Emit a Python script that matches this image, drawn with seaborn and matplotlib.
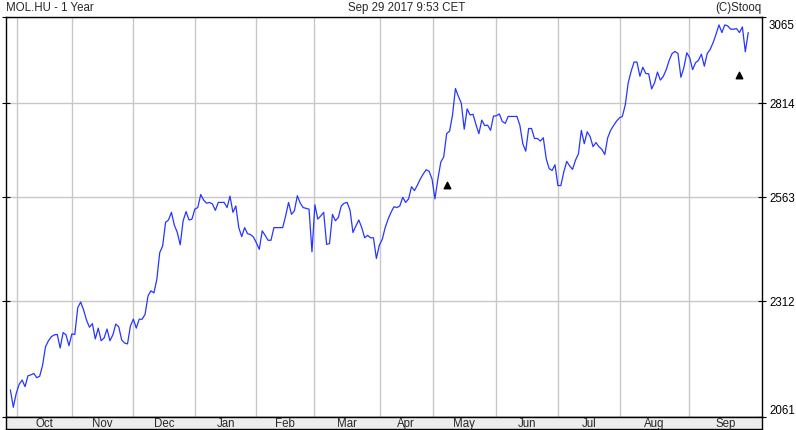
import numpy as np
import matplotlib
matplotlib.use("Agg")
import matplotlib.pyplot as plt
import matplotlib.transforms as mtransforms
from matplotlib.ticker import NullFormatter, NullLocator
import seaborn as sns

# MOL.HU daily close, one value per trading day
close = [
    2117, 2081, 2110, 2129, 2138, 2124, 2147, 2149, 2152, 2143,
    2146, 2170, 2210, 2223, 2232, 2236, 2237, 2207, 2241, 2236,
    2212, 2238, 2237, 2297, 2310, 2292, 2269, 2253, 2261, 2227,
    2251, 2223, 2229, 2249, 2223, 2236, 2260, 2254, 2225, 2218,
    2216, 2256, 2271, 2251, 2271, 2271, 2282, 2324, 2336, 2331,
    2362, 2426, 2442, 2500, 2506, 2525, 2493, 2475, 2445, 2504,
    2527, 2506, 2508, 2533, 2537, 2570, 2556, 2548, 2550, 2546,
    2530, 2550, 2550, 2550, 2537, 2566, 2525, 2541, 2487, 2465,
    2487, 2472, 2470, 2464, 2450, 2434, 2479, 2468, 2456, 2456,
    2487, 2487, 2487, 2487, 2516, 2550, 2520, 2529, 2567, 2548,
    2537, 2535, 2533, 2428, 2544, 2508, 2516, 2525, 2446, 2448,
    2520, 2504, 2512, 2541, 2548, 2550, 2530, 2475, 2491, 2506,
    2487, 2462, 2468, 2462, 2462, 2412, 2444, 2458, 2487, 2508,
    2525, 2539, 2537, 2541, 2563, 2550, 2559, 2590, 2580, 2594,
    2610, 2623, 2634, 2630, 2610, 2559, 2610, 2654, 2668, 2730,
    2737, 2781, 2855, 2833, 2814, 2742, 2798, 2781, 2783, 2755,
    2730, 2767, 2752, 2753, 2739, 2778, 2779, 2784, 2763, 2758,
    2777, 2777, 2777, 2777, 2753, 2703, 2683, 2744, 2744, 2717,
    2717, 2710, 2719, 2663, 2637, 2632, 2647, 2593, 2593, 2628,
    2656, 2644, 2635, 2659, 2676, 2739, 2703, 2735, 2722, 2695,
    2706, 2695, 2688, 2674, 2719, 2739, 2752, 2764, 2773, 2777,
    2809, 2871, 2904, 2931, 2931, 2890, 2916, 2898, 2897, 2854,
    2871, 2902, 2879, 2890, 2909, 2936, 2956, 2962, 2956, 2887,
    2914, 2958, 2944, 2909, 2929, 2936, 2954, 2919, 2956, 2968,
    2988, 3013, 3041, 3018, 3041, 3038, 3028, 3028, 3030, 3018,
    3035, 2961, 3018,
]
day = np.arange(len(close))

# event markers (black triangles)
event_day = [149, 249]
event_level = [2594, 2895]

# month boundaries as trading-day positions
month_pos = [2.1, 21, 41.9, 63.1, 83.9, 103.8, 126.2, 144.2, 165.9, 187.1, 208.3, 231.8]
month_names = ["Oct", "Nov", "Dec", "Jan", "Feb", "Mar", "Apr", "May", "Jun", "Jul", "Aug", "Sep"]
price_ticks = [2061, 2312, 2563, 2814, 3065]

sns.set_style("white")
plt.rcParams["font.family"] = ["Liberation Sans", "DejaVu Sans"]

W, H = 796, 430
fig = plt.figure(figsize=(W / 100, H / 100), dpi=100)
ax = fig.add_axes([6 / W, 1 - 417 / H, 756 / W, 400 / H])

x_lo, x_hi = -1.5, 256.7

sns.lineplot(x=day, y=close, ax=ax, color="#2636ff", linewidth=0.9)
ax.scatter(event_day, event_level, marker="^", s=22, color="black", zorder=3)

ax.set_yscale("log")
ax.set_ylim(price_ticks[0], price_ticks[-1])
ax.set_xlim(x_lo, x_hi)
ax.yaxis.set_minor_locator(NullLocator())
ax.yaxis.set_minor_formatter(NullFormatter())
ax.set_yticks(price_ticks)
ax.set_yticklabels([str(v) for v in price_ticks])
ax.yaxis.tick_right()
ax.tick_params(axis="y", direction="inout", length=6, width=0.8, pad=2,
               labelsize=8.3, colors="black", left=True, right=True)
labels = ax.get_yticklabels()
labels[0].set_verticalalignment("bottom")
labels[-1].set_verticalalignment("top")
shift_down = mtransforms.ScaledTranslation(0, -3 / 100, fig.dpi_scale_trans)
labels[-1].set_transform(labels[-1].get_transform() + shift_down)

ax.set_xticks(month_pos)
ax.set_xticklabels([])
ax.tick_params(axis="x", direction="in", length=3, width=0.8, colors="black")

ax.grid(True, color="#c8c8c8", linewidth=1)
ax.set_xlabel("")
ax.set_ylabel("")
for s in ax.spines.values():
    s.set_color("black")
    s.set_linewidth(1)

# month strip below the plot
strip = fig.add_axes([6 / W, 1 - 429 / H, 756 / W, 12 / H])
strip.set_facecolor("#ececec")
strip.set_xlim(x_lo, x_hi)
strip.set_ylim(0, 1)
strip.set_xticks([])
strip.set_yticks([])
for s in strip.spines.values():
    s.set_color("black")
    s.set_linewidth(1)
edges = month_pos + [x_hi]
for i, name in enumerate(month_names):
    mid = (edges[i] + edges[i + 1]) / 2
    strip.text(mid, 0.45, name, ha="center", va="center", fontsize=8.3)

fig.text(6 / W, 1 - 8 / H, "MOL.HU - 1 Year", ha="left", va="center", fontsize=8.3)
fig.text(406.7 / W, 1 - 8 / H, "Sep 29 2017 9:53 CET", ha="center", va="center", fontsize=8.3)
fig.text(761 / W, 1 - 8 / H, "(C)Stooq", ha="right", va="center", fontsize=8.3)

fig.savefig("out.png", dpi=100)
